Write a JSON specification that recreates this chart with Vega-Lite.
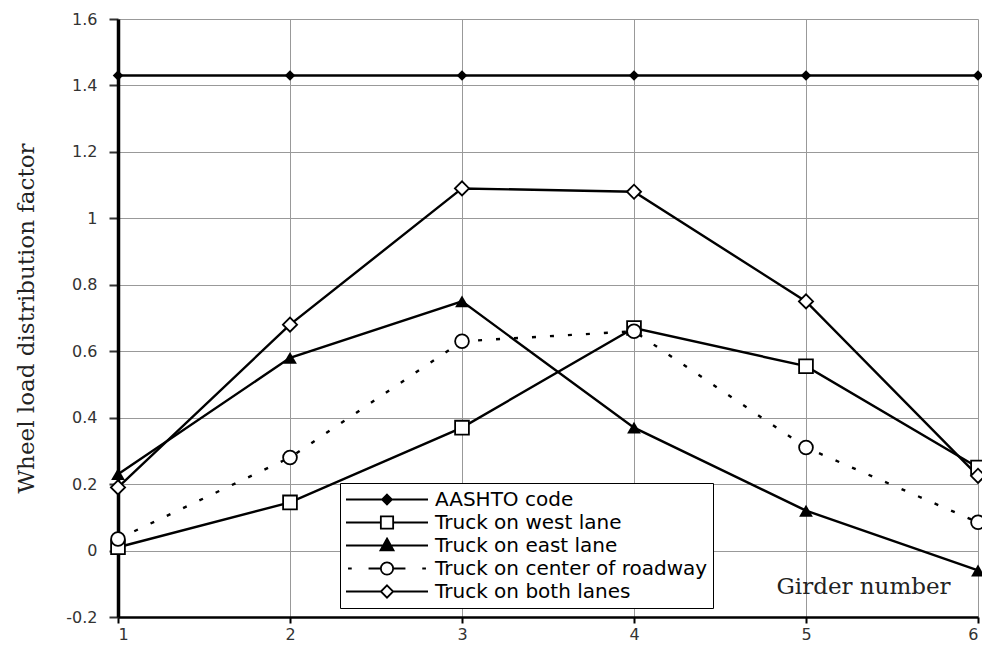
{
  "$schema": "https://vega.github.io/schema/vega-lite/v6.json",
  "autosize": {"type": "none"},
  "padding": {"left": 118, "top": 19, "right": 4, "bottom": 50},
  "width": 860,
  "height": 598,
  "background": "white",
  "config": {"view": {"stroke": null}},
  "data": {"values": [
    {"girder": 1, "series": "AASHTO code", "value": 1.43},
    {"girder": 2, "series": "AASHTO code", "value": 1.43},
    {"girder": 3, "series": "AASHTO code", "value": 1.43},
    {"girder": 4, "series": "AASHTO code", "value": 1.43},
    {"girder": 5, "series": "AASHTO code", "value": 1.43},
    {"girder": 6, "series": "AASHTO code", "value": 1.43},
    {"girder": 1, "series": "Truck on west lane", "value": 0.01},
    {"girder": 2, "series": "Truck on west lane", "value": 0.145},
    {"girder": 3, "series": "Truck on west lane", "value": 0.37},
    {"girder": 4, "series": "Truck on west lane", "value": 0.67},
    {"girder": 5, "series": "Truck on west lane", "value": 0.555},
    {"girder": 6, "series": "Truck on west lane", "value": 0.25},
    {"girder": 1, "series": "Truck on east lane", "value": 0.23},
    {"girder": 2, "series": "Truck on east lane", "value": 0.58},
    {"girder": 3, "series": "Truck on east lane", "value": 0.75},
    {"girder": 4, "series": "Truck on east lane", "value": 0.37},
    {"girder": 5, "series": "Truck on east lane", "value": 0.12},
    {"girder": 6, "series": "Truck on east lane", "value": -0.06},
    {"girder": 1, "series": "Truck on center of roadway", "value": 0.035},
    {"girder": 2, "series": "Truck on center of roadway", "value": 0.28},
    {"girder": 3, "series": "Truck on center of roadway", "value": 0.63},
    {"girder": 4, "series": "Truck on center of roadway", "value": 0.66},
    {"girder": 5, "series": "Truck on center of roadway", "value": 0.31},
    {"girder": 6, "series": "Truck on center of roadway", "value": 0.085},
    {"girder": 1, "series": "Truck on both lanes", "value": 0.19},
    {"girder": 2, "series": "Truck on both lanes", "value": 0.68},
    {"girder": 3, "series": "Truck on both lanes", "value": 1.09},
    {"girder": 4, "series": "Truck on both lanes", "value": 1.08},
    {"girder": 5, "series": "Truck on both lanes", "value": 0.75},
    {"girder": 6, "series": "Truck on both lanes", "value": 0.225}
  ]},
  "encoding": {
    "x": {
      "field": "girder", "type": "quantitative",
      "scale": {"domain": [1, 6], "nice": false, "zero": false},
      "axis": {
        "values": [1, 2, 3, 4, 5, 6],
        "format": "d",
        "title": "Girder number",
        "titleFont": "DejaVu Serif", "titleFontSize": 23, "titleFontWeight": "normal", "titleColor": "#222",
        "titleX": 745, "titleY": -24, "titleBaseline": "alphabetic", "titleAlign": "center",
        "labelFont": "DejaVu Sans", "labelFontSize": 16, "labelColor": "#333", "labelPadding": 3,
        "domainColor": "black", "domainWidth": 2.5,
        "tickColor": "black", "tickSize": 6, "tickWidth": 2,
        "grid": true, "gridColor": "#999", "gridWidth": 1
      }
    },
    "y": {
      "field": "value", "type": "quantitative",
      "scale": {"domain": [-0.2, 1.6], "nice": false, "zero": false},
      "axis": {
        "values": [-0.2, 0, 0.2, 0.4, 0.6, 0.8, 1, 1.2, 1.4, 1.6],
        "format": "~g",
        "labelExpr": "replace(datum.label, '\u2212', '-')",
        "title": "Wheel load distribution factor",
        "titleFont": "DejaVu Serif", "titleFontSize": 23, "titleFontWeight": "normal", "titleColor": "#222",
        "titleX": -80, "titleBaseline": "bottom",
        "labelFont": "DejaVu Sans", "labelFontSize": 16, "labelColor": "#333", "labelPadding": 12,
        "domainColor": "black", "domainWidth": 3.5,
        "tickColor": "#333", "tickSize": 9, "tickWidth": 2,
        "grid": true, "gridColor": "#999", "gridWidth": 1
      }
    }
  },
  "layer": [
    {
      "transform": [{"filter": "datum.series != 'Truck on center of roadway'"}],
      "mark": {"type": "line", "color": "black", "strokeWidth": 2.4},
      "encoding": {
        "detail": {"field": "series"},
        "opacity": {
          "field": "series", "type": "nominal",
          "scale": {
            "domain": ["AASHTO code", "Truck on west lane", "Truck on east lane", "Truck on center of roadway", "Truck on both lanes"],
            "range": [1, 1, 1, 1, 1]
          },
          "legend": {
            "orient": "none", "legendX": 222, "legendY": 464,
            "title": null,
            "strokeColor": "black", "fillColor": "white", "padding": 5,
            "symbolSize": 6724, "clipHeight": 23, "rowPadding": 0,
            "symbolOffset": 0, "labelOffset": 6, "labelLimit": 500,
            "labelFont": "DejaVu Sans", "labelFontSize": 20, "labelColor": "black",
            "symbolType": {"expr": "datum.value == 'AASHTO code' ? 'M-1,0H1M0,-0.12L0.12,0L0,0.12L-0.12,0Z' : datum.value == 'Truck on west lane' ? 'M-1,0H-0.15M0.15,0H1M-0.15,-0.15H0.15V0.15H-0.15Z' : datum.value == 'Truck on east lane' ? 'M-1,0H1M0,-0.17L0.16,0.12L-0.16,0.12Z' : datum.value == 'Truck on center of roadway' ? 'M-0.95,0H-0.86M-0.45,0H-0.15M0.15,0H0.45M0.86,0H0.95M0.15,0A0.15,0.15 0 1 1 -0.15,0A0.15,0.15 0 1 1 0.15,0Z' : 'M-1,0H-0.15M0.15,0H1M0,-0.15L0.15,0L0,0.15L-0.15,0Z'"},
            "symbolFillColor": {"expr": "datum.value == 'AASHTO code' || datum.value == 'Truck on east lane' ? 'black' : 'white'"},
            "symbolStrokeColor": "black",
            "symbolStrokeWidth": 1.8,
            "symbolOpacity": 1
          }
        }
      }
    },
    {
      "transform": [{"filter": "datum.series == 'Truck on center of roadway'"}],
      "mark": {"type": "line", "color": "black", "strokeWidth": 2.4, "strokeDash": [4, 14]},
      "encoding": {"detail": {"field": "series"}}
    },
    {
      "transform": [{"filter": "datum.series == 'AASHTO code'"}],
      "mark": {"type": "point", "shape": "diamond", "filled": true, "color": "black", "size": 110, "opacity": 1},
      "encoding": {}
    },
    {
      "transform": [{"filter": "datum.series == 'Truck on east lane'"}],
      "mark": {"type": "point", "shape": "triangle-up", "filled": true, "color": "black", "size": 190, "opacity": 1},
      "encoding": {}
    },
    {
      "transform": [{"filter": "datum.series == 'Truck on west lane'"}],
      "mark": {"type": "point", "shape": "square", "filled": true, "fill": "white", "stroke": "black", "strokeWidth": 1.8, "size": 190, "opacity": 1},
      "encoding": {}
    },
    {
      "transform": [{"filter": "datum.series == 'Truck on center of roadway'"}],
      "mark": {"type": "point", "shape": "circle", "filled": true, "fill": "white", "stroke": "black", "strokeWidth": 1.8, "size": 190, "opacity": 1},
      "encoding": {}
    },
    {
      "transform": [{"filter": "datum.series == 'Truck on both lanes'"}],
      "mark": {"type": "point", "shape": "diamond", "filled": true, "fill": "white", "stroke": "black", "strokeWidth": 1.8, "size": 200, "opacity": 1},
      "encoding": {}
    }
  ]
}
